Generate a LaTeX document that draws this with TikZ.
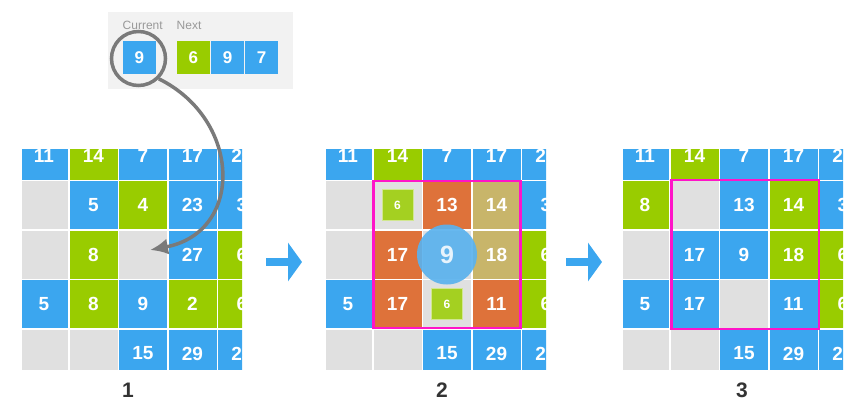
\documentclass[tikz,border=0pt]{standalone}
\usepackage{fontspec}
\setmainfont{Liberation Sans}
\usepackage{tikz}
\usetikzlibrary{arrows.meta,positioning,calc}
\definecolor{cellblue}{RGB}{59,166,239}
\definecolor{cellgreen}{RGB}{153,204,0}
\definecolor{cellgray}{RGB}{224,224,224}
\definecolor{cellorange}{RGB}{222,114,58}
\definecolor{celltan}{RGB}{200,181,106}
\definecolor{pickgreen}{RGB}{164,208,33}
\definecolor{selpink}{RGB}{255,20,200}
\definecolor{traygray}{RGB}{242,242,242}
\definecolor{lensgray}{RGB}{122,122,122}
\definecolor{focusblue}{RGB}{90,178,238}

\begin{document}
\begin{tikzpicture}[x=1pt,y=-1pt]
\tikzstyle{cell}=[rectangle, minimum size=48pt, inner sep=0pt, text=white, font=\bfseries\fontsize{19}{19}\selectfont]
\tikzstyle{bcell}=[cell, fill=cellblue]
\tikzstyle{gcell}=[cell, fill=cellgreen]
\tikzstyle{ecell}=[cell, fill=cellgray]
\tikzstyle{ocell}=[cell, fill=cellorange]
\tikzstyle{tcell}=[cell, fill=celltan]
\tikzstyle{tile}=[rectangle, minimum size=33pt, inner sep=0pt, text=white, font=\bfseries\fontsize{17}{17}\selectfont]
\tikzstyle{pick}=[rectangle, minimum size=31pt, inner sep=0pt, fill=pickgreen, draw=pickgreen!50!white, thin, text=white, font=\bfseries\fontsize{12}{12}\selectfont]
\tikzstyle{sel}=[draw=selpink, line width=2.5pt]
\tikzstyle{connect}=[-{Latex[length=18pt,width=16pt]}, line width=3.5pt, draw=lensgray]
\tikzstyle{goarrow}=[-{Triangle[length=14pt,width=38pt]}, line width=8pt, draw=cellblue]
\tikzstyle{caption}=[font=\bfseries\fontsize{21}{21}\selectfont, text=black!80]
\tikzstyle{hint}=[font=\fontsize{12}{12}\selectfont, text=black!40]

\useasboundingbox (0,0) rectangle (862,417);

  % queue of pieces
  \node[rectangle, fill=traygray, minimum width=185pt, minimum height=77pt] (tray) at (200.5,50.5) {};
  \node[hint] (curlab)  at (142.7,25.5) {Current};
  \node[hint] (nextlab) at (189,25.5)   {Next};
  \node[tile, fill=cellblue]  (cur) at (139.3,57.5) {9};
  \node[tile, fill=cellgreen] (nx1) at (193.3,57.5) {6};
  \node[tile, fill=cellblue]  (nx2) at (227.5,57.5) {9};
  \node[tile, fill=cellblue]  (nx3) at (261.5,57.5) {7};

  % board 1
  \begin{scope}
  \clip (22,150) rectangle (242,369);
  \node[bcell] (a00) at (44,155.5)   {11};
  \node[gcell] (a01) at (93.5,155.5) {14};
  \node[bcell] (a02) at (143,155.5)  {7};
  \node[bcell] (a03) at (192.5,155.5){17};
  \node[bcell] (a04) at (242,155.5)  {25};

  \node[ecell] (a10) at (44,205)     {};
  \node[bcell] (a11) at (93.5,205)   {5};
  \node[gcell] (a12) at (143,205)    {4};
  \node[bcell] (a13) at (192.5,205)  {23};
  \node[bcell] (a14) at (242,205)    {3};

  \node[ecell] (a20) at (44,254.5)   {};
  \node[gcell] (a21) at (93.5,254.5) {8};
  \node[ecell] (a22) at (143,254.5)  {};
  \node[bcell] (a23) at (192.5,254.5){27};
  \node[gcell] (a24) at (242,254.5)  {6};

  \node[bcell] (a30) at (44,304)     {5};
  \node[gcell] (a31) at (93.5,304)   {8};
  \node[bcell] (a32) at (143,304)    {9};
  \node[gcell] (a33) at (192.5,304)  {2};
  \node[gcell] (a34) at (242,304)    {6};

  \node[ecell] (a40) at (44,353.5)   {};
  \node[ecell] (a41) at (93.5,353.5) {};
  \node[bcell] (a42) at (143,353.5)  {15};
  \node[bcell] (a43) at (192.5,353.5){29};
  \node[bcell] (a44) at (242,353.5)  {25};
  \end{scope}

  % board 2
  \begin{scope}[xshift=304]
  \clip (22,150) rectangle (242,369);
  \node[bcell] (b00) at (44,155.5)   {11};
  \node[gcell] (b01) at (93.5,155.5) {14};
  \node[bcell] (b02) at (143,155.5)  {7};
  \node[bcell] (b03) at (192.5,155.5){17};
  \node[bcell] (b04) at (242,155.5)  {25};

  \node[ecell] (b10) at (44,205)     {};
  \node[ecell] (b11) at (93.5,205)   {};
  \node[ocell] (b12) at (143,205)    {13};
  \node[tcell] (b13) at (192.5,205)  {14};
  \node[bcell] (b14) at (242,205)    {3};

  \node[ecell] (b20) at (44,254.5)   {};
  \node[ocell] (b21) at (93.5,254.5) {17};
  \node[ecell] (b22) at (143,254.5)  {};
  \node[tcell] (b23) at (192.5,254.5){18};
  \node[gcell] (b24) at (242,254.5)  {6};

  \node[bcell] (b30) at (44,304)     {5};
  \node[ocell] (b31) at (93.5,304)   {17};
  \node[ecell] (b32) at (143,304)    {};
  \node[ocell] (b33) at (192.5,304)  {11};
  \node[gcell] (b34) at (242,304)    {6};

  \node[ecell] (b40) at (44,353.5)   {};
  \node[ecell] (b41) at (93.5,353.5) {};
  \node[bcell] (b42) at (143,353.5)  {15};
  \node[bcell] (b43) at (192.5,353.5){29};
  \node[bcell] (b44) at (242,353.5)  {25};

  \node[pick] (pk1) at (b11) {6};
  \node[pick] (pk2) at (b32) {6};
  \node[circle, fill=focusblue, fill opacity=0.92, text opacity=0.85, text=white, minimum size=60pt,
        font=\bfseries\fontsize{25}{25}\selectfont] (drop2) at (b22) {9};
  \draw[sel] (b11.north west) rectangle (b33.south east);
  \end{scope}

  % board 3
  \begin{scope}[xshift=601]
  \clip (22,150) rectangle (242,369);
  \node[bcell] (c00) at (44,155.5)   {11};
  \node[gcell] (c01) at (93.5,155.5) {14};
  \node[bcell] (c02) at (143,155.5)  {7};
  \node[bcell] (c03) at (192.5,155.5){17};
  \node[bcell] (c04) at (242,155.5)  {25};

  \node[gcell] (c10) at (44,205)     {8};
  \node[ecell] (c11) at (93.5,205)   {};
  \node[bcell] (c12) at (143,205)    {13};
  \node[gcell] (c13) at (192.5,205)  {14};
  \node[bcell] (c14) at (242,205)    {3};

  \node[ecell] (c20) at (44,254.5)   {};
  \node[bcell] (c21) at (93.5,254.5) {17};
  \node[bcell] (c22) at (143,254.5)  {9};
  \node[gcell] (c23) at (192.5,254.5){18};
  \node[gcell] (c24) at (242,254.5)  {6};

  \node[bcell] (c30) at (44,304)     {5};
  \node[bcell] (c31) at (93.5,304)   {17};
  \node[ecell] (c32) at (143,304)    {};
  \node[bcell] (c33) at (192.5,304)  {11};
  \node[gcell] (c34) at (242,304)    {6};

  \node[ecell] (c40) at (44,353.5)   {};
  \node[ecell] (c41) at (93.5,353.5) {};
  \node[bcell] (c42) at (143,353.5)  {15};
  \node[bcell] (c43) at (192.5,353.5){29};
  \node[bcell] (c44) at (242,353.5)  {25};

  \draw[sel] ([shift={(1,-1)}]c11.north west) rectangle ([shift={(1.5,1)}]c33.south east);
  \end{scope}

  % lens and drop arrow
  \node[circle, draw=lensgray, line width=3.5pt, minimum size=54pt] (lens) at (138.5,58.5) {};
  \coordinate (drop) at (150,250);
  \draw[connect] (lens.-45) .. controls (242,120) and (244,232) .. (drop);

  % steps
  \coordinate (go1) at (266,262);
  \coordinate (go1end) at (302,262);
  \coordinate (go2) at (566,262);
  \coordinate (go2end) at (602,262);
  \draw[goarrow] (go1) -- (go1end);
  \draw[goarrow] (go2) -- (go2end);

  \node[caption] (n1) at (128,390) {1};
  \node[caption] (n2) at (442,390) {2};
  \node[caption] (n3) at (742,390) {3};

\end{tikzpicture}
\end{document}
